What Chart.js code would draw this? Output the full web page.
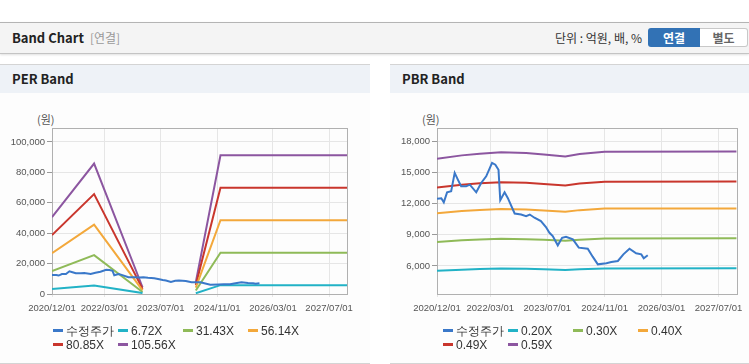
<!DOCTYPE html>
<html>
<head>
<meta charset="utf-8">
<script src="https://cdn.jsdelivr.net/npm/chart.js@4/dist/chart.umd.min.js"></script>
<style>
body{margin:0;width:749px;height:364px;overflow:hidden;background:#fff;position:relative;font-family:"Noto Sans CJK KR","Noto Sans",sans-serif;color:#222}
.hdr{position:absolute;left:0;top:22px;width:749px;height:30px;background:#f4f4f4;border-top:1px solid #b4b4b4;border-bottom:1px solid #c4c4c4;box-shadow:0 1px 2px rgba(0,0,0,.12)}
.hdr .t{position:absolute;left:12px;top:6px;font-size:13px;font-weight:bold;line-height:18px}
.hdr .t span{font-weight:normal;color:#999;font-size:12px;margin-left:6px}
.hdr .unit{position:absolute;right:107px;top:7px;font-size:12px;line-height:16px;color:#333}
.btn{position:absolute;top:5px;height:19px;font-size:12px;font-weight:bold;line-height:19px;text-align:center}
.b1{left:648px;width:52px;background:#3272b5;color:#fff;border-radius:3px 0 0 3px}
.b2{left:700px;width:47px;background:#fff;color:#666;border:1px solid #c8c8c8;border-left:none;height:17px;line-height:17px;border-radius:0 3px 3px 0}
.panel{position:absolute;top:64px;height:298px;background:#fdfdfd;border-top:1px solid #d4d4d4;border-bottom:1px solid #d4d4d4}
.panel .ttl{height:28px;background:#eef2f7;font-size:13px;font-weight:bold;line-height:28px;padding-left:12px}
.unitw{position:absolute;font-size:11px;color:#555}
canvas{position:absolute}
.lg{position:absolute;font-family:"Liberation Sans",Arial,sans-serif;font-size:12px;color:#333;white-space:nowrap;line-height:14px}
.lg i{display:inline-block;width:10px;height:3px;vertical-align:middle;margin-right:3px;margin-top:-2px}
</style>
</head>
<body>
<div class="hdr">
  <div class="t">Band Chart<span>[연결]</span></div>
  <div class="unit">단위 : 억원, 배, %</div>
  <div class="btn b1">연결</div>
  <div class="btn b2">별도</div>
</div>
<div class="panel" style="left:0;width:370px"><div class="ttl">PER Band</div></div>
<div class="panel" style="left:390px;width:359px"><div class="ttl">PBR Band</div></div>
<div class="unitw" style="left:37px;top:111px">(원)</div>
<div class="unitw" style="left:422px;top:111px">(원)</div>
<canvas id="perChart" width="370" height="268" style="left:0;top:93px"></canvas>
<canvas id="pbrChart" width="359" height="268" style="left:390px;top:93px"></canvas>
<div id="perLegend"></div>
<div id="pbrLegend"></div>
<script>
// x axis
var tickDates = ['2020/12/01', '2022/03/01', '2023/07/01', '2024/11/01', '2026/03/01', '2027/07/01']
var xStart = '2020/12/01'
var xEnd = '2027/12/03'

// 수정주가
var priceDates = ['2020/12/01','2021/01/07','2021/01/28','2021/02/25','2021/04/01','2021/05/01','2021/05/28','2021/06/25',
  '2021/08/07','2021/09/07','2021/11/01','2021/12/13','2022/01/25','2022/03/16','2022/04/13','2022/05/10','2022/05/25',
  '2022/07/01','2022/07/28','2022/09/25','2022/11/19','2023/01/01','2023/02/01','2023/03/13','2023/05/07','2023/06/19',
  '2023/07/19','2023/08/16','2023/09/28','2023/11/04','2023/12/07','2024/02/04','2024/03/25','2024/06/10','2024/07/22',
  '2024/09/04','2024/11/16','2024/12/28','2025/02/22','2025/04/10','2025/06/01','2025/07/28','2025/09/10','2025/10/01','2025/11/04']
var priceValues = [12470,12530,12140,13100,13200,14970,14320,13680,
  13680,13840,13100,14000,14640,15930,15760,15280,12340,
  13100,12560,11060,10960,10800,10960,10650,10320,9750,
  9200,8880,7990,8720,8820,8560,7770,7670,6900,
  6160,6260,6380,6480,7120,7670,7220,7120,6740,7030]

// PER band
var perDates = ['2020/12/01', '2021/12/01', '2023/01/25', '2023/09/01', '2024/05/01', '2024/12/01', '2027/12/03']
var perLabels = ['6.72X', '31.43X', '56.14X', '80.85X', '105.56X']
var per1 = [3220, 5600, 600, null, 497, 5806, 5806]
var per2 = [15060, 25553, 1320, null, 2326, 27156, 27156]
var per3 = [26900, 45642, 2358, null, 4154, 48505, 48505]
var per4 = [38730, 65731, 3396, null, 5983, 69854, 69854]
var per5 = [50570, 85820, 4434, null, 7811, 91204, 91204]
var perTicks = [0, 20000, 40000, 60000, 80000, 100000]

// PBR band
var pbrDates = ['2020/12/01','2021/07/01','2021/12/01','2022/06/01','2023/01/01','2023/06/01','2023/12/01','2024/04/01','2024/11/01','2027/12/03']
var pbrLabels = ['0.20X', '0.30X', '0.40X', '0.49X', '0.59X']
var pbr1 = [5540, 5648, 5702, 5746, 5726, 5678, 5614, 5692, 5766, 5776]
var pbr2 = [8310, 8472, 8553, 8619, 8589, 8517, 8421, 8538, 8649, 8664]
var pbr3 = [11080, 11296, 11404, 11492, 11452, 11356, 11228, 11384, 11532, 11552]
var pbr4 = [13573, 13838, 13970, 14078, 14029, 13911, 13754, 13945, 14127, 14151]
var pbr5 = [16343, 16662, 16821, 16951, 16892, 16750, 16561, 16791, 17010, 17039]
var pbrTicks = [6000, 9000, 12000, 15000, 18000]

var colors = ['#3a78c9', '#22b2c6', '#8fba58', '#f3a83b', '#c9362d', '#8c56a0']

function day(s) {
  var p = s.split('/')
  return Date.UTC(+p[0], p[1] - 1, +p[2]) / 864e5
}
function pts(dates, vals) {
  return dates.map(function (d, i) { return {x: day(d), y: vals[i]} })
}

var frame = {
  id: 'frame',
  beforeDatasetsDraw: function (c) {
    var a = c.chartArea, ctx = c.ctx
    ctx.save()
    ctx.strokeStyle = '#b0b0b0'
    ctx.lineWidth = 1
    ctx.strokeRect(Math.round(a.left) + 0.5, Math.round(a.top) + 0.5, Math.round(a.right - a.left), Math.round(a.bottom - a.top))
    ctx.restore()
  }
}

var tickFont = {family: '"Liberation Sans", Arial, sans-serif', size: 9.5}

function makeChart(id, bandDates, bands, labels, yMin, yMax, yTicks, axisW, padRight) {
  var datasets = [{label: '수정주가', data: pts(priceDates, priceValues), borderColor: colors[0]}]
  bands.forEach(function (b, i) {
    datasets.push({label: labels[i], data: pts(bandDates, b), borderColor: colors[i + 1]})
  })
  return new Chart(document.getElementById(id), {
    type: 'line',
    data: {datasets: datasets},
    options: {
      responsive: false,
      animation: false,
      spanGaps: false,
      layout: {padding: {top: 35, right: padRight, left: 0, bottom: 0}},
      elements: {point: {radius: 0}, line: {borderWidth: 2, tension: 0}},
      plugins: {legend: {display: false}, tooltip: {enabled: false}},
      scales: {
        x: {
          type: 'linear', min: day(xStart), max: day(xEnd),
          afterBuildTicks: function (ax) { ax.ticks = tickDates.map(function (d) { return {value: day(d)} }) },
          afterFit: function (ax) { ax.height = 67 },
          ticks: {
            autoSkip: false, maxRotation: 0, padding: 6, color: '#555', font: tickFont,
            callback: function (v, i) { return tickDates[i] }
          },
          grid: {color: '#e6e6e6', tickLength: 3, tickColor: '#e6e6e6'},
          border: {display: false}
        },
        y: {
          min: yMin, max: yMax,
          afterBuildTicks: function (ax) { ax.ticks = yTicks.map(function (v) { return {value: v} }) },
          afterFit: function (ax) { ax.width = axisW },
          ticks: {
            padding: 2, color: '#555', font: tickFont,
            callback: function (v) { return v.toLocaleString('en-US') }
          },
          grid: {color: '#e6e6e6', tickLength: 5, tickColor: '#999'},
          border: {display: false}
        }
      }
    },
    plugins: [frame]
  })
}

function legend(id, left, labels) {
  var box = document.getElementById(id)
  var all = ['수정주가'].concat(labels)
  all.forEach(function (t, i) {
    var d = document.createElement('div')
    d.className = 'lg'
    d.style.left = (left + (i % 4) * 65) + 'px'
    d.style.top = (324 + Math.floor(i / 4) * 13.5) + 'px'
    d.innerHTML = '<i style="background:' + colors[i] + '"></i>' + t
    box.appendChild(d)
  })
}

makeChart('perChart', perDates, [per1, per2, per3, per4, per5], perLabels, 0, 109200, perTicks, 52, 23)
makeChart('pbrChart', pbrDates, [pbr1, pbr2, pbr3, pbr4, pbr5], pbrLabels, 3300, 19300, pbrTicks, 47, 12)
legend('perLegend', 53, perLabels)
legend('pbrLegend', 443, pbrLabels)
</script>
</body>
</html>
